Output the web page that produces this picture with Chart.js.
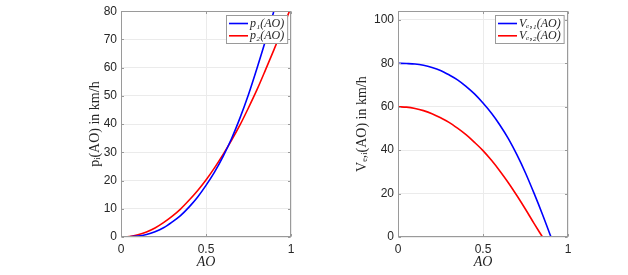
<!DOCTYPE html>
<html><head><meta charset="utf-8">
<script src="https://cdn.jsdelivr.net/npm/chart.js@4"></script>
<style>
html,body{margin:0;padding:0;background:#fff;width:628px;height:275px;overflow:hidden}
.box{position:absolute;top:0;width:314px;height:275px}
canvas{display:block}
</style></head><body>
<div class="box" style="left:0"><canvas id="c1" width="314" height="275"></canvas></div>
<div class="box" style="left:314px"><canvas id="c2" width="314" height="275"></canvas></div>
<script>
// x values (AO)
const AO = [0, 0.05, 0.1, 0.15, 0.2, 0.25, 0.3, 0.35, 0.4, 0.45, 0.5, 0.55, 0.6, 0.65, 0.7, 0.75, 0.8, 0.85, 0.9, 0.95, 1.0];
// left plot: p_i(AO)
const p1 = [0, 0.06, 0.3, 0.9, 1.9, 3.3, 5.3, 7.6, 10.6, 14.1, 18.3, 23.0, 28.5, 34.8, 42.2, 50.5, 59.8, 69.6, 80.2, 91.0, 102.0];
const p2 = [0, 0.2, 0.8, 1.8, 3.2, 5.1, 7.3, 9.9, 13.0, 16.4, 20.2, 24.5, 29.2, 34.2, 39.7, 45.8, 52.2, 59.2, 66.4, 73.8, 81.4];
// right plot: V_e,i(AO)
const V1 = [80, 79.9, 79.7, 79.1, 78.1, 76.7, 74.7, 72.4, 69.4, 65.9, 61.7, 57.0, 51.5, 45.2, 37.8, 29.5, 20.2, 10.4, 0];
const V2 = [60, 59.8, 59.2, 58.2, 56.8, 54.9, 52.8, 50.1, 47.1, 43.6, 39.8, 35.3, 30.3, 24.9, 19.0, 12.8, 6.3, 0];
// tick / label texts
const xTicks = [0, 0.5, 1];
const xTickLabels = ['0', '0.5', '1'];
const leftYTicks = [0, 10, 20, 30, 40, 50, 60, 70, 80];
const rightYTicks = [0, 20, 40, 60, 80, 100];
const labelsLeft = ['p\u2081(AO)', 'p\u2082(AO)'];
const labelsRight = ['V\u2091,\u2081(AO)', 'V\u2091,\u2082(AO)'];
const titleLeft = 'p\u1D62(AO) in km/h';
const titleRight = 'V\u2091,\u1D62(AO) in km/h';
const xTitle = 'AO';

const AXIS = '#9a9a9a';
const GRID = '#ebebeb';
const TXT = '#262626';
const SANS = "'Liberation Sans', Arial, sans-serif";
const SERIF = "'Liberation Serif', 'DejaVu Serif', serif";

const pts = (ys) => ys.map((y, i) => ({x: AO[i], y}));

const boxPlugin = {
  id: 'boxTicks',
  afterDatasetsDraw(chart) {
    const {ctx, chartArea: a, scales} = chart;
    ctx.save();
    ctx.strokeStyle = AXIS;
    ctx.lineWidth = 1;
    const L = Math.round(a.left) + 0.5, R = Math.round(a.right) - 0.5;
    const T = Math.round(a.top) + 0.5, B = Math.round(a.bottom) - 0.5;
    ctx.strokeRect(L, T, R - L, B - T);
    const tl = 2.5;
    ctx.beginPath();
    scales.x.ticks.forEach(t => {
      const px = Math.round(scales.x.getPixelForValue(t.value)) + 0.5;
      ctx.moveTo(px, B); ctx.lineTo(px, B - tl);
      ctx.moveTo(px, T); ctx.lineTo(px, T + tl);
    });
    scales.y.ticks.forEach(t => {
      const py = Math.round(scales.y.getPixelForValue(t.value)) + 0.5;
      ctx.moveTo(L, py); ctx.lineTo(L + tl, py);
      ctx.moveTo(R, py); ctx.lineTo(R - tl, py);
    });
    ctx.stroke();
    ctx.restore();
  },
  afterDraw(chart) {
    const {ctx, chartArea: a} = chart;
    const ds = chart.data.datasets;
    ctx.save();
    ctx.font = 'italic 12px ' + SERIF;
    let tw = 0;
    ds.forEach(d => { tw = Math.max(tw, ctx.measureText(d.label).width); });
    const w = 24 + tw + 3, h = 28;
    const x0 = Math.round(a.right - 4 - w) + 0.5, y0 = Math.round(a.top + 4) + 0.5;
    ctx.fillStyle = '#fff';
    ctx.fillRect(x0, y0, w, h);
    ctx.strokeStyle = AXIS;
    ctx.lineWidth = 1;
    ctx.strokeRect(x0, y0, w, h);
    ds.forEach((d, i) => {
      const yy = y0 + 8 + i * 12.3;
      ctx.strokeStyle = d.borderColor;
      ctx.lineWidth = 1.6;
      ctx.beginPath();
      ctx.moveTo(x0 + 2.5, yy); ctx.lineTo(x0 + 21.5, yy);
      ctx.stroke();
      ctx.fillStyle = TXT;
      ctx.textBaseline = 'middle';
      ctx.fillText(d.label, x0 + 23.5, yy);
    });
    ctx.restore();
  }
};

function makeChart(id, sets, yMax, yTickList, yTitle, pad, yWidth) {
  return new Chart(document.getElementById(id), {
    type: 'line',
    data: {
      datasets: sets.map(s => ({
        label: s.label, data: pts(s.data), borderColor: s.color, backgroundColor: s.color,
        borderWidth: 1.6, pointRadius: 0, cubicInterpolationMode: 'monotone', fill: false
      }))
    },
    plugins: [boxPlugin],
    options: {
      responsive: false, animation: false, devicePixelRatio: 1,
      layout: {padding: pad},
      plugins: {legend: {display: false}, tooltip: {enabled: false}},
      scales: {
        x: {
          type: 'linear', min: 0, max: 1,
          afterBuildTicks: s => { s.ticks = xTicks.map(v => ({value: v})); },
          afterFit: s => { s.height = 34; },
          ticks: {color: TXT, font: {family: SANS, size: 12}, padding: 5,
                  callback: (v) => { const i = xTicks.indexOf(v); return i >= 0 ? xTickLabels[i] : String(v); }},
          grid: {color: GRID, drawTicks: false},
          border: {display: false},
          title: {display: true, text: xTitle, color: TXT, font: {family: SERIF, size: 14, style: 'italic'}, padding: {top: 0, bottom: 0}}
        },
        y: {
          type: 'linear', min: 0, max: yMax,
          afterBuildTicks: s => { s.ticks = yTickList.map(v => ({value: v})); },
          afterFit: s => { s.width = yWidth; },
          ticks: {color: TXT, font: {family: SANS, size: 12}, padding: 4, callback: (v) => String(v)},
          grid: {color: GRID, drawTicks: false},
          border: {display: false},
          title: {display: true, text: yTitle, color: TXT, font: {family: SERIF, size: 14}, padding: {top: 0, bottom: 0}}
        }
      }
    }
  });
}

makeChart('c1', [
  {label: labelsLeft[0], data: p1, color: '#0000ff'},
  {label: labelsLeft[1], data: p2, color: '#ff0000'}
], 80, leftYTicks, titleLeft, {left: 87, right: 23, top: 11, bottom: 4}, 34);

makeChart('c2', [
  {label: labelsRight[0], data: V1, color: '#0000ff'},
  {label: labelsRight[1], data: V2, color: '#ff0000'}
], 104, rightYTicks, titleRight, {left: 40, right: 60, top: 11, bottom: 4}, 44);
</script>
</body></html>
